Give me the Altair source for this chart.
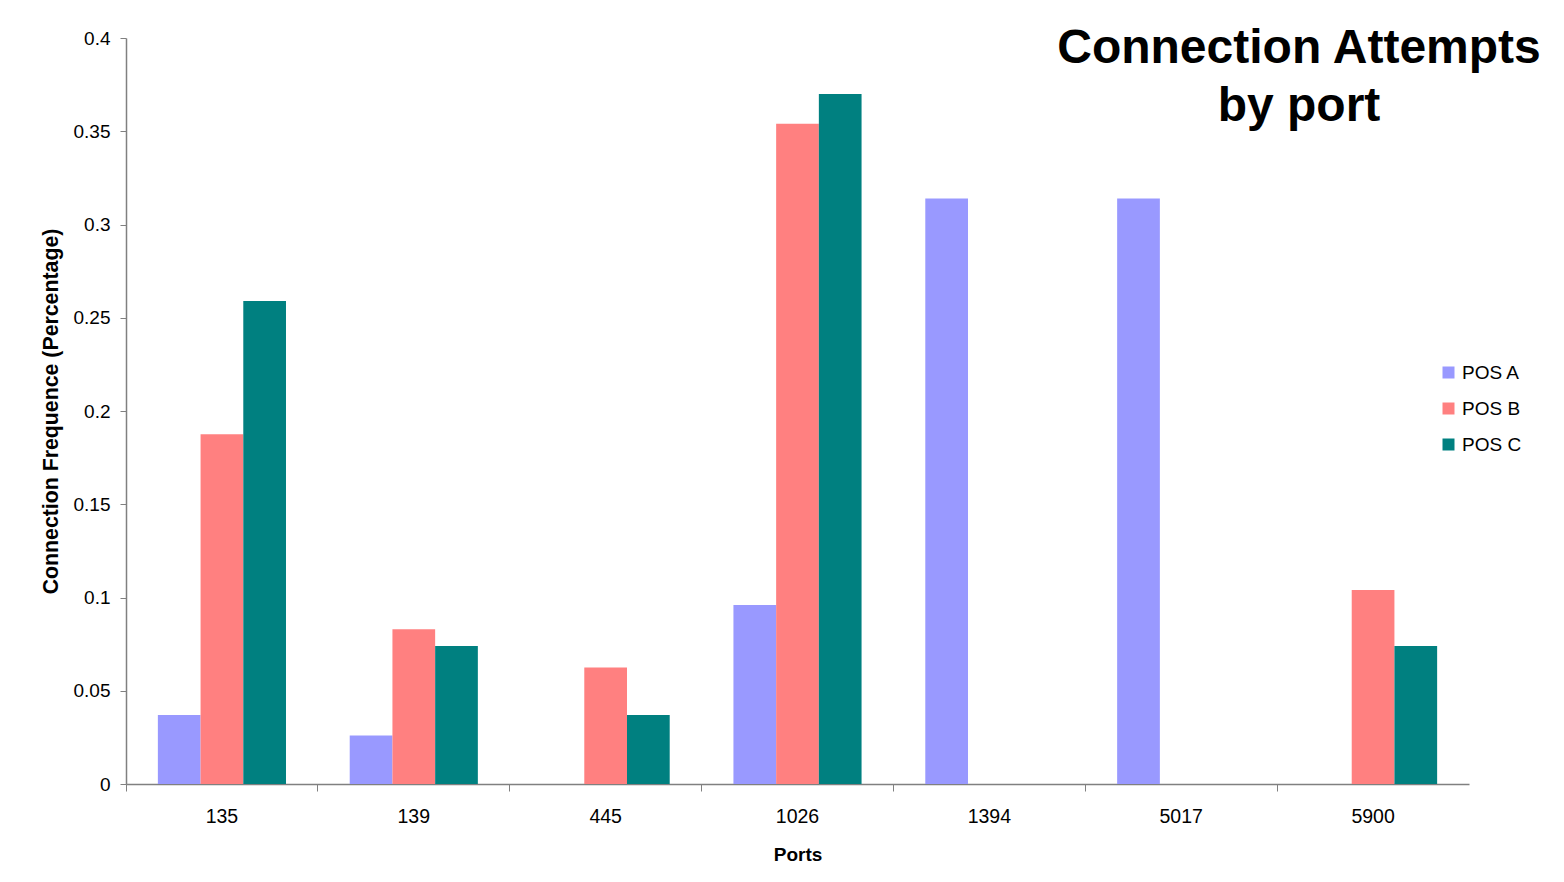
import altair as alt
import pandas as pd

ports = ["135", "139", "445", "1026", "1394", "5017", "5900"]
series = ["POS A", "POS B", "POS C"]
pos_a = [0.037, 0.026, 0.0, 0.096, 0.314, 0.314, 0.0]
pos_b = [0.1875, 0.083, 0.0625, 0.354, 0.0, 0.0, 0.104]
pos_c = [0.259, 0.074, 0.037, 0.370, 0.0, 0.0, 0.074]
colors = ["#9999FF", "#FF8080", "#008080"]

rows = []
for name, vals in zip(series, [pos_a, pos_b, pos_c]):
    for p, v in zip(ports, vals):
        rows.append({"Port": p, "Series": name, "Value": v})
df = pd.DataFrame(rows)

FONT = "Liberation Sans"
W, H = 1343, 746

bars = alt.Chart(df).mark_bar().encode(
    x=alt.X("Port:N", sort=ports,
            scale=alt.Scale(paddingInner=0, paddingOuter=0),
            axis=alt.Axis(title="Ports", labelAngle=0, bandPosition=0,
                          labelFontSize=19.5, labelFont=FONT, labelColor="black",
                          labelPadding=16, tickSize=7, tickColor="#808080",
                          domainColor="#808080", domainWidth=1.5,
                          titleFont=FONT, titleFontSize=19, titleFontWeight="bold",
                          titleColor="black", titlePadding=20, grid=False)),
    xOffset=alt.XOffset("Series:N", sort=series,
                        scale=alt.Scale(paddingInner=0, paddingOuter=0.746)),
    y=alt.Y("Value:Q",
            scale=alt.Scale(domain=[0, 0.4], nice=False),
            axis=alt.Axis(title="Connection Frequence (Percentage)",
                          values=[0, 0.05, 0.1, 0.15, 0.2, 0.25, 0.3, 0.35, 0.4],
                          format=".2~f", grid=False,
                          labelFontSize=19, labelFont=FONT, labelColor="black",
                          labelPadding=10, tickSize=6, tickColor="#808080",
                          domainColor="#808080", domainWidth=1.5,
                          titleFont=FONT, titleFontSize=21.3, titleFontWeight="bold",
                          titleColor="black", titlePadding=12)),
    color=alt.Color("Series:N", sort=series,
                    scale=alt.Scale(domain=series, range=colors),
                    legend=alt.Legend(title=None, orient="none",
                                      legendX=1313, legendY=325,
                                      symbolType="square", symbolSize=144,
                                      symbolStrokeWidth=0,
                                      labelFont=FONT, labelFontSize=19,
                                      labelColor="black", rowPadding=16,
                                      labelOffset=4)),
)

title_df = pd.DataFrame({"t": ["Connection Attempts\nby port"]})
title = alt.Chart(title_df).mark_text(
    font=FONT, fontSize=48, fontWeight="bold", color="black",
    align="center", baseline="middle", lineBreak="\n", lineHeight=58
).encode(text="t:N", x=alt.value(1173), y=alt.value(11))

chart = alt.layer(bars, title).properties(
    width=W, height=H,
    padding={"left": 118, "top": 30, "right": 80, "bottom": 85},
    autosize=alt.AutoSizeParams(type="none"),
    background="white",
).configure_view(stroke=None)

chart.save("out.html", embed_options={"renderer": "svg", "actions": False})
